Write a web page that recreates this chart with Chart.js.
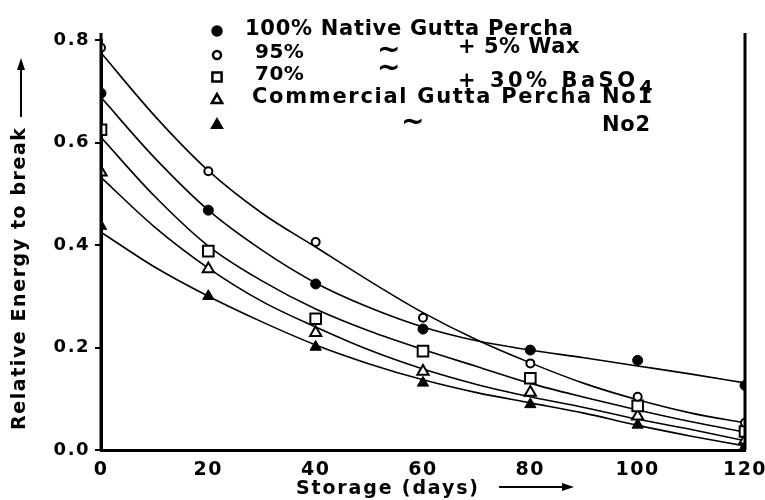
<!DOCTYPE html>
<html>
<head>
<meta charset="utf-8">
<script src="https://cdn.jsdelivr.net/npm/chart.js@4.4.1/dist/chart.umd.min.js"></script>
<style>
  html, body { margin: 0; padding: 0; background: #fff; }
</style>
</head>
<body>
<canvas id="chart" width="765" height="500"></canvas>
<script>
// measured points (storage days vs relative energy to break)
const days = [0, 20, 40, 60, 80, 100, 120];
const native100 = [0.696, 0.468, 0.324, 0.236, 0.195, 0.175, 0.126];
const wax95 = [0.785, 0.544, 0.406, 0.258, 0.169, 0.104, 0.053];
const baso70 = [0.625, 0.388, 0.256, 0.193, 0.140, 0.086, 0.036];
const commNo1 = [0.542, 0.353, 0.229, 0.153, 0.112, 0.066, 0.019];
const commNo2 = [0.437, 0.300, 0.201, 0.131, 0.089, 0.049, 0.007];

const fitDays = [0, 10, 20, 30, 40, 50, 60, 70, 80, 90, 100, 110, 120];
const native100Fit = [0.688, 0.570, 0.468, 0.390, 0.326, 0.278, 0.240, 0.213, 0.195, 0.180, 0.164, 0.148, 0.131];
const wax95Fit = [0.775, 0.652, 0.545, 0.462, 0.396, 0.330, 0.268, 0.215, 0.170, 0.130, 0.098, 0.072, 0.053];
const baso70Fit = [0.610, 0.495, 0.398, 0.330, 0.275, 0.232, 0.196, 0.163, 0.130, 0.103, 0.078, 0.055, 0.035];
const commNo1Fit = [0.532, 0.435, 0.355, 0.290, 0.240, 0.195, 0.158, 0.128, 0.104, 0.083, 0.060, 0.040, 0.018];
const commNo2Fit = [0.425, 0.357, 0.300, 0.250, 0.205, 0.168, 0.137, 0.112, 0.092, 0.072, 0.048, 0.027, 0.008];

const yTicks = [0, 0.2, 0.4, 0.6, 0.8];
const xTicks = [0, 20, 40, 60, 80, 100, 120];

const FONT = '"DejaVu Sans", sans-serif';

// marker look for each series
const markers = [
  { style: 'circle', radius: 5, fill: '#000', border: 1 },
  { style: 'circle', radius: 4, fill: '#fff', border: 2 },
  { style: 'rect', radius: 7.5, fill: '#fff', border: 2 },
  { style: 'triangle', radius: 6.5, fill: '#fff', border: 2 },
  { style: 'triangle', radius: 6.5, fill: '#000', border: 1 }
];

const pointSets = [native100, wax95, baso70, commNo1, commNo2];
const fitSets = [native100Fit, wax95Fit, baso70Fit, commNo1Fit, commNo2Fit];

const datasets = [];
pointSets.forEach((vals, i) => {
  const m = markers[i];
  datasets.push({
    data: days.map((d, k) => ({ x: d, y: vals[k] })),
    showLine: false,
    pointStyle: m.style,
    pointRadius: m.radius,
    pointBackgroundColor: m.fill,
    pointBorderColor: '#000',
    pointBorderWidth: m.border,
    order: 1
  });
});
fitSets.forEach(vals => {
  datasets.push({
    data: fitDays.map((d, k) => ({ x: d, y: vals[k] })),
    borderColor: '#000',
    borderWidth: 1.6,
    pointRadius: 0,
    fill: false,
    cubicInterpolationMode: 'monotone',
    order: 2
  });
});

// draw text stretched to a given width by letter spacing
function fitText(ctx, text, x, y, width, size) {
  ctx.font = 'bold ' + size + 'px ' + FONT;
  ctx.letterSpacing = '0px';
  const n = [...text].length;
  if (n > 1) {
    const w = ctx.measureText(text).width;
    const ls = Math.max(0.5, (width - w) / (n - 1));
    ctx.letterSpacing = ls + 'px';
  }
  ctx.fillText(text, x, y);
  ctx.letterSpacing = '0px';
}

function arrowHead(ctx, x, y, dx, dy) {
  // filled head pointing along (dx, dy)
  const len = 12, half = 4;
  const px = -dy, py = dx;
  ctx.beginPath();
  ctx.moveTo(x, y);
  ctx.lineTo(x - dx * len + px * half, y - dy * len + py * half);
  ctx.lineTo(x - dx * len - px * half, y - dy * len - py * half);
  ctx.closePath();
  ctx.fill();
}

const decor = {
  id: 'decor',
  beforeDraw(chart) {
    chart.ctx.letterSpacing = '1.5px';
  },
  afterDraw(chart) {
    const ctx = chart.ctx;
    const area = chart.chartArea;
    const xs = chart.scales.x;
    ctx.save();
    ctx.fillStyle = '#000';
    ctx.strokeStyle = '#000';

    // left and right frame lines, running a bit above the top tick
    ctx.lineWidth = 3;
    ctx.beginPath();
    ctx.moveTo(area.left, area.top - 7);
    ctx.lineTo(area.left, area.bottom);
    const xr = xs.getPixelForValue(120);
    ctx.moveTo(xr, area.top - 7);
    ctx.lineTo(xr, area.bottom);
    ctx.stroke();

    // y axis title with arrow
    ctx.save();
    ctx.translate(20, 430);
    ctx.rotate(-Math.PI / 2);
    ctx.textAlign = 'left';
    ctx.textBaseline = 'middle';
    fitText(ctx, 'Relative Energy to break', 0, 0, 302, 19);
    ctx.lineWidth = 2;
    ctx.beginPath();
    ctx.moveTo(313, 1);
    ctx.lineTo(362, 1);
    ctx.stroke();
    arrowHead(ctx, 372, 1, 1, 0);
    ctx.restore();

    // x axis title with arrow
    ctx.textAlign = 'left';
    ctx.textBaseline = 'alphabetic';
    fitText(ctx, 'Storage (days)', 296, 494, 182, 19);
    ctx.lineWidth = 2;
    ctx.beginPath();
    ctx.moveTo(499, 487);
    ctx.lineTo(564, 487);
    ctx.stroke();
    arrowHead(ctx, 574, 487, 1, 0);

    // legend symbols
    const symY = [31, 55, 77, 100, 125];
    const symR = [5, 4, 6.5, 6, 6.5];
    markers.forEach((m, i) => {
      ctx.fillStyle = m.fill;
      ctx.strokeStyle = '#000';
      ctx.lineWidth = m.border + 0.5;
      Chart.helpers.drawPoint(ctx, {
        pointStyle: m.style, radius: symR[i], rotation: 0, borderWidth: m.border + 0.5
      }, 217, symY[i]);
    });

    // legend text
    ctx.fillStyle = '#000';
    ctx.textBaseline = 'alphabetic';
    fitText(ctx, '100% Native Gutta Percha', 245, 35, 328, 21);
    fitText(ctx, '95%', 255, 58, 48, 20);
    fitText(ctx, '~', 377, 58, 20, 28);
    fitText(ctx, '+ 5% Wax', 458, 53, 115, 21);
    fitText(ctx, '70%', 255, 80, 48, 20);
    fitText(ctx, '~', 377, 76, 20, 28);
    fitText(ctx, '+ 30% BaSO', 458, 87, 177, 21);
    fitText(ctx, '4', 640, 93, 12, 18);
    fitText(ctx, 'Commercial Gutta Percha No1', 252, 103, 400, 21);
    fitText(ctx, '~', 401, 130, 20, 28);
    fitText(ctx, 'No2', 602, 131, 48, 21);

    ctx.restore();
  }
};

new Chart(document.getElementById('chart'), {
  type: 'line',
  data: { datasets: datasets },
  options: {
    responsive: false,
    animation: false,
    devicePixelRatio: 1,
    layout: { padding: { top: 40, right: 20, left: 0, bottom: 0 } },
    plugins: { legend: { display: false }, tooltip: { enabled: false } },
    scales: {
      x: {
        type: 'linear',
        min: xTicks[0],
        max: xTicks[xTicks.length - 1],
        afterBuildTicks: s => { s.ticks = xTicks.map(v => ({ value: v })); },
        ticks: {
          color: '#000',
          padding: 1,
          font: { family: FONT, size: 19, weight: 'bold' }
        },
        grid: { display: false },
        border: { display: true, color: '#000', width: 3 },
        afterFit: s => { s.height = 50; s.paddingLeft = 0; s.paddingRight = 0; }
      },
      y: {
        min: yTicks[0],
        max: yTicks[yTicks.length - 1],
        afterBuildTicks: s => { s.ticks = yTicks.map(v => ({ value: v })); },
        ticks: {
          color: '#000',
          padding: 5,
          callback: v => v.toFixed(1),
          font: { family: FONT, size: 18, weight: 'bold' }
        },
        grid: { display: true, drawOnChartArea: false, tickLength: 6, color: '#000', lineWidth: 2 },
        border: { display: true, color: '#000', width: 3 },
        afterFit: s => { s.width = 101; }
      }
    }
  },
  plugins: [decor]
});
</script>
</body>
</html>
